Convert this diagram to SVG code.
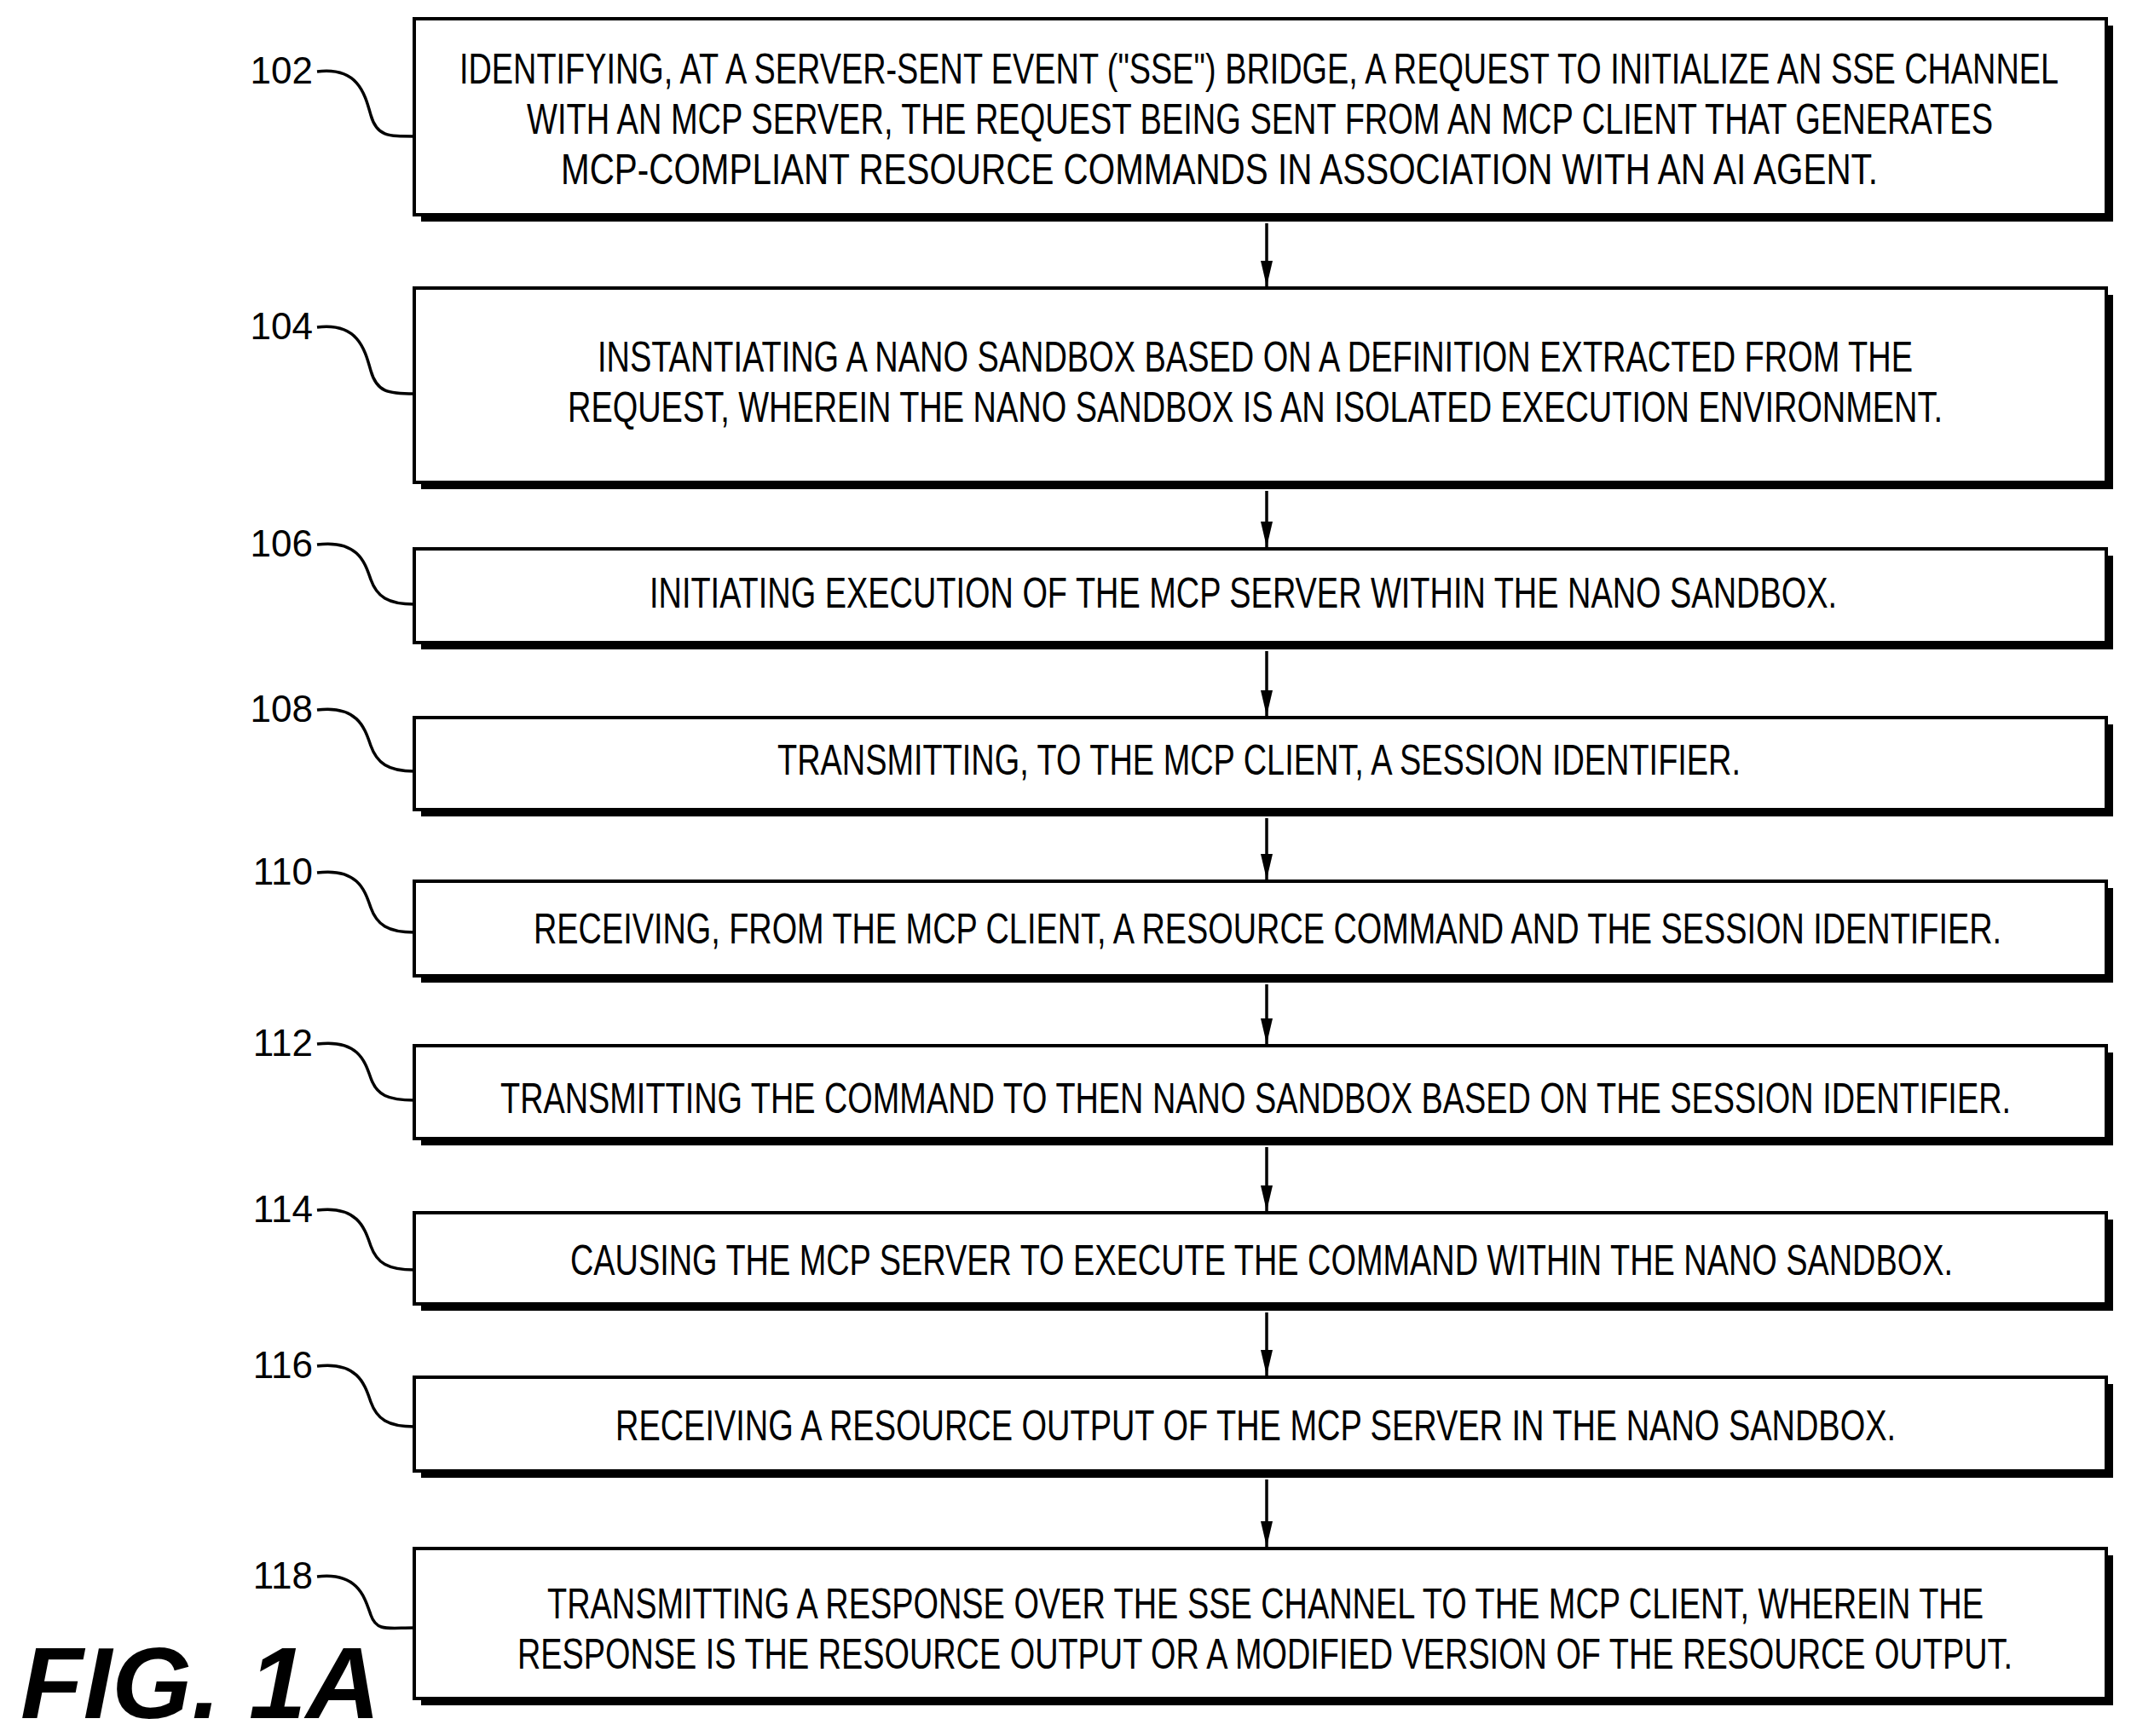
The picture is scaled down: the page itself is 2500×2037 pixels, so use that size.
<svg xmlns="http://www.w3.org/2000/svg" width="2500" height="2037" viewBox="0 0 2500 2037">
<style>
.box{fill:#fff;stroke:#000;stroke-width:4}
.sh{fill:#000}
.t{font-family:"Liberation Sans",Arial,sans-serif;font-size:50px;fill:#000}
.lb{font-family:"Liberation Sans",Arial,sans-serif;font-size:44px;fill:#000}
.ld{fill:none;stroke:#000;stroke-width:3.5}
.ar{stroke:#000;stroke-width:3.5}
</style>
<defs>
<marker id="ah" markerWidth="30" markerHeight="14" refX="30" refY="7" orient="auto" markerUnits="userSpaceOnUse" viewBox="0 0 30 14"><path d="M0,0 L30,7 L0,14 Z" fill="#000"/></marker>
</defs>
<rect width="2500" height="2037" fill="#fff"/>
<g id="connectors">
<line class="ar" x1="1486" y1="262" x2="1486" y2="336" marker-end="url(#ah)"/>
<line class="ar" x1="1486" y1="576" x2="1486" y2="642" marker-end="url(#ah)"/>
<line class="ar" x1="1486" y1="764" x2="1486" y2="840" marker-end="url(#ah)"/>
<line class="ar" x1="1486" y1="960" x2="1486" y2="1032" marker-end="url(#ah)"/>
<line class="ar" x1="1486" y1="1155" x2="1486" y2="1225" marker-end="url(#ah)"/>
<line class="ar" x1="1486" y1="1346" x2="1486" y2="1421" marker-end="url(#ah)"/>
<line class="ar" x1="1486" y1="1540" x2="1486" y2="1614" marker-end="url(#ah)"/>
<line class="ar" x1="1486" y1="1736" x2="1486" y2="1815" marker-end="url(#ah)"/>
</g>
<g id="n102"><rect class="sh" x="494" y="30" width="1985" height="230"/><rect class="box" x="486" y="22" width="1985" height="230"/>
<text class="t" x="539" y="98" textLength="1876" lengthAdjust="spacingAndGlyphs">IDENTIFYING, AT A SERVER-SENT EVENT ("SSE") BRIDGE, A REQUEST TO INITIALIZE AN SSE CHANNEL</text>
<text class="t" x="618" y="157" textLength="1720" lengthAdjust="spacingAndGlyphs">WITH AN MCP SERVER, THE REQUEST BEING SENT FROM AN MCP CLIENT THAT GENERATES</text>
<text class="t" x="658" y="216" textLength="1545" lengthAdjust="spacingAndGlyphs">MCP-COMPLIANT RESOURCE COMMANDS IN ASSOCIATION WITH AN AI AGENT.</text>
<text class="lb" x="367" y="98" text-anchor="end">102</text><path class="ld" d="M372,84 C420,78 428,110 435,135 S455,160 486,160"/></g>
<g id="n104"><rect class="sh" x="494" y="346" width="1985" height="228"/><rect class="box" x="486" y="338" width="1985" height="228"/>
<text class="t" x="701" y="436" textLength="1543" lengthAdjust="spacingAndGlyphs">INSTANTIATING A NANO SANDBOX BASED ON A DEFINITION EXTRACTED FROM THE</text>
<text class="t" x="666" y="495" textLength="1613" lengthAdjust="spacingAndGlyphs">REQUEST, WHEREIN THE NANO SANDBOX IS AN ISOLATED EXECUTION ENVIRONMENT.</text>
<text class="lb" x="367" y="398" text-anchor="end">104</text><path class="ld" d="M372,384 C420,378 428,410 435,435 S455,462 486,462"/></g>
<g id="n106"><rect class="sh" x="494" y="652" width="1985" height="110"/><rect class="box" x="486" y="644" width="1985" height="110"/>
<text class="t" x="762" y="713" textLength="1393" lengthAdjust="spacingAndGlyphs">INITIATING EXECUTION OF THE MCP SERVER WITHIN THE NANO SANDBOX.</text>
<text class="lb" x="367" y="653" text-anchor="end">106</text><path class="ld" d="M372,639 C420,633 428,660 435,680 S455,709 486,709"/></g>
<g id="n108"><rect class="sh" x="494" y="850" width="1985" height="108"/><rect class="box" x="486" y="842" width="1985" height="108"/>
<text class="t" x="912" y="909" textLength="1130" lengthAdjust="spacingAndGlyphs">TRANSMITTING, TO THE MCP CLIENT, A SESSION IDENTIFIER.</text>
<text class="lb" x="367" y="847" text-anchor="end">108</text><path class="ld" d="M372,833 C420,827 428,855 435,875 S455,905 486,905"/></g>
<g id="n110"><rect class="sh" x="494" y="1042" width="1985" height="111"/><rect class="box" x="486" y="1034" width="1985" height="111"/>
<text class="t" x="626" y="1107" textLength="1722" lengthAdjust="spacingAndGlyphs">RECEIVING, FROM THE MCP CLIENT, A RESOURCE COMMAND AND THE SESSION IDENTIFIER.</text>
<text class="lb" x="367" y="1038" text-anchor="end">110</text><path class="ld" d="M372,1024 C420,1018 428,1045 435,1065 S455,1094 486,1094"/></g>
<g id="n112"><rect class="sh" x="494" y="1235" width="1985" height="109"/><rect class="box" x="486" y="1227" width="1985" height="109"/>
<text class="t" x="587" y="1306" textLength="1772" lengthAdjust="spacingAndGlyphs">TRANSMITTING THE COMMAND TO THEN NANO SANDBOX BASED ON THE SESSION IDENTIFIER.</text>
<text class="lb" x="367" y="1239" text-anchor="end">112</text><path class="ld" d="M372,1225 C420,1219 428,1245 435,1265 S455,1291 486,1291"/></g>
<g id="n114"><rect class="sh" x="494" y="1431" width="1985" height="107"/><rect class="box" x="486" y="1423" width="1985" height="107"/>
<text class="t" x="669" y="1496" textLength="1622" lengthAdjust="spacingAndGlyphs">CAUSING THE MCP SERVER TO EXECUTE THE COMMAND WITHIN THE NANO SANDBOX.</text>
<text class="lb" x="367" y="1434" text-anchor="end">114</text><path class="ld" d="M372,1420 C420,1414 428,1442 435,1462 S455,1490 486,1490"/></g>
<g id="n116"><rect class="sh" x="494" y="1624" width="1985" height="110"/><rect class="box" x="486" y="1616" width="1985" height="110"/>
<text class="t" x="722" y="1690" textLength="1502" lengthAdjust="spacingAndGlyphs">RECEIVING A RESOURCE OUTPUT OF THE MCP SERVER IN THE NANO SANDBOX.</text>
<text class="lb" x="367" y="1617" text-anchor="end">116</text><path class="ld" d="M372,1603 C420,1597 428,1625 435,1645 S455,1674 486,1674"/></g>
<g id="n118"><rect class="sh" x="494" y="1825" width="1985" height="176"/><rect class="box" x="486" y="1817" width="1985" height="176"/>
<text class="t" x="642" y="1899" textLength="1685" lengthAdjust="spacingAndGlyphs">TRANSMITTING A RESPONSE OVER THE SSE CHANNEL TO THE MCP CLIENT, WHEREIN THE</text>
<text class="t" x="607" y="1958" textLength="1754" lengthAdjust="spacingAndGlyphs">RESPONSE IS THE RESOURCE OUTPUT OR A MODIFIED VERSION OF THE RESOURCE OUTPUT.</text>
<text class="lb" x="367" y="1864" text-anchor="end">118</text><path class="ld" d="M372,1850 C420,1844 428,1875 435,1895 S455,1910 486,1910"/></g>
<text x="24" y="2016" font-family="Liberation Sans,Arial,sans-serif" font-size="118" font-weight="bold" font-style="italic" textLength="422" lengthAdjust="spacingAndGlyphs">FIG. 1A</text>
</svg>
